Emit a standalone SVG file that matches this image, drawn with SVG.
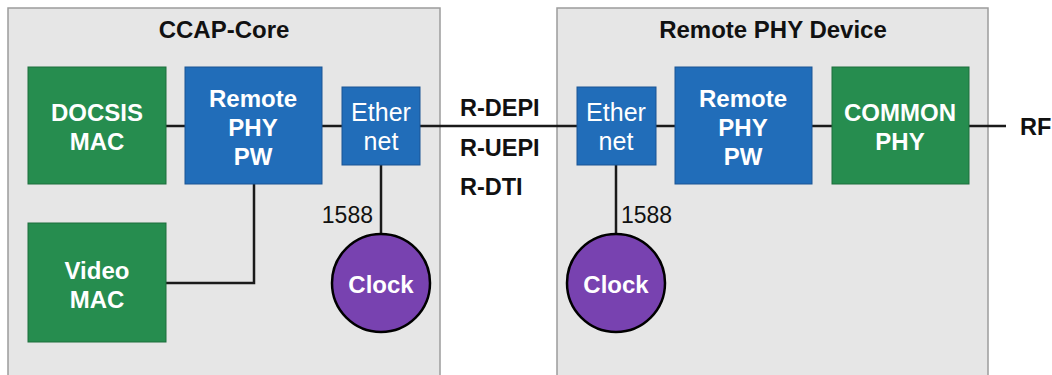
<svg xmlns="http://www.w3.org/2000/svg" width="1052" height="375" viewBox="0 0 1052 375">
<style>
.cont{fill:#e6e6e6;stroke:#9c9c9c;stroke-width:1.5}
.green{fill:#268d4f;stroke:#1d6e3d;stroke-width:1}
.blue{fill:#216db9;stroke:#1a5594;stroke-width:1}
.clock{fill:#7842b0;stroke:#000;stroke-width:2.5}
.ln{stroke:#1a1a1a;stroke-width:2.5;fill:none}
text{font-family:"Liberation Sans",Arial,sans-serif}
.title{font-size:24px;font-weight:bold;fill:#111;text-anchor:middle}
.wb{font-size:24px;font-weight:bold;fill:#fff;text-anchor:middle}
.wr{font-size:25px;fill:#fff;text-anchor:middle}
.lbl{font-size:23.5px;font-weight:bold;fill:#111}
.num{font-size:23px;fill:#111}
</style>
<g id="ccap-core">
<rect class="cont" x="8" y="8" width="432" height="380"/>
<text class="title" x="224" y="38">CCAP-Core</text>
</g>
<g id="rpd">
<rect class="cont" x="557" y="8" width="431" height="380"/>
<text class="title" x="773" y="38">Remote PHY Device</text>
</g>
<g id="connectors">
<line class="ln" x1="166" y1="126" x2="185" y2="126"/>
<line class="ln" x1="322" y1="126" x2="342" y2="126"/>
<line class="ln" x1="420" y1="126" x2="577" y2="126"/>
<line class="ln" x1="656" y1="126" x2="675" y2="126"/>
<line class="ln" x1="812" y1="126" x2="832" y2="126"/>
<line class="ln" x1="969" y1="126" x2="1006" y2="126"/>
<polyline class="ln" points="254,184 254,283 166,283"/>
<line class="ln" x1="381" y1="165" x2="381" y2="234"/>
<line class="ln" x1="616" y1="165" x2="616" y2="234"/>
</g>
<g id="docsis-mac">
<rect class="green" x="28" y="67" width="138" height="117"/>
<text class="wb" x="97" y="121">DOCSIS</text>
<text class="wb" x="97" y="150">MAC</text>
</g>
<g id="rphy-pw-core">
<rect class="blue" x="185" y="67" width="137" height="117"/>
<text class="wb" x="253" y="107">Remote</text>
<text class="wb" x="253" y="136">PHY</text>
<text class="wb" x="253" y="165">PW</text>
</g>
<g id="ethernet-core">
<rect class="blue" x="342" y="87" width="78" height="78"/>
<text class="wr" x="381" y="121">Ether</text>
<text class="wr" x="381" y="150">net</text>
</g>
<g id="video-mac">
<rect class="green" x="28" y="223" width="138" height="119"/>
<text class="wb" x="97" y="279">Video</text>
<text class="wb" x="97" y="308">MAC</text>
</g>
<g id="clock-core">
<circle class="clock" cx="381" cy="283" r="49"/>
<text class="wb" x="381" y="293">Clock</text>
</g>
<text class="num" x="373" y="223" text-anchor="end">1588</text>
<g id="ethernet-rpd">
<rect class="blue" x="577" y="87" width="79" height="78"/>
<text class="wr" x="616" y="121">Ether</text>
<text class="wr" x="616" y="150">net</text>
</g>
<g id="rphy-pw-rpd">
<rect class="blue" x="675" y="67" width="137" height="117"/>
<text class="wb" x="743" y="107">Remote</text>
<text class="wb" x="743" y="136">PHY</text>
<text class="wb" x="743" y="165">PW</text>
</g>
<g id="common-phy">
<rect class="green" x="832" y="67" width="137" height="117"/>
<text class="wb" x="900" y="121">COMMON</text>
<text class="wb" x="900" y="150">PHY</text>
</g>
<g id="clock-rpd">
<circle class="clock" cx="616" cy="283" r="49"/>
<text class="wb" x="616" y="293">Clock</text>
</g>
<text class="num" x="621" y="223">1588</text>
<text class="lbl" x="460" y="116">R-DEPI</text>
<text class="lbl" x="460" y="156">R-UEPI</text>
<text class="lbl" x="460" y="195">R-DTI</text>
<text class="lbl" x="1020" y="135">RF</text>
</svg>
